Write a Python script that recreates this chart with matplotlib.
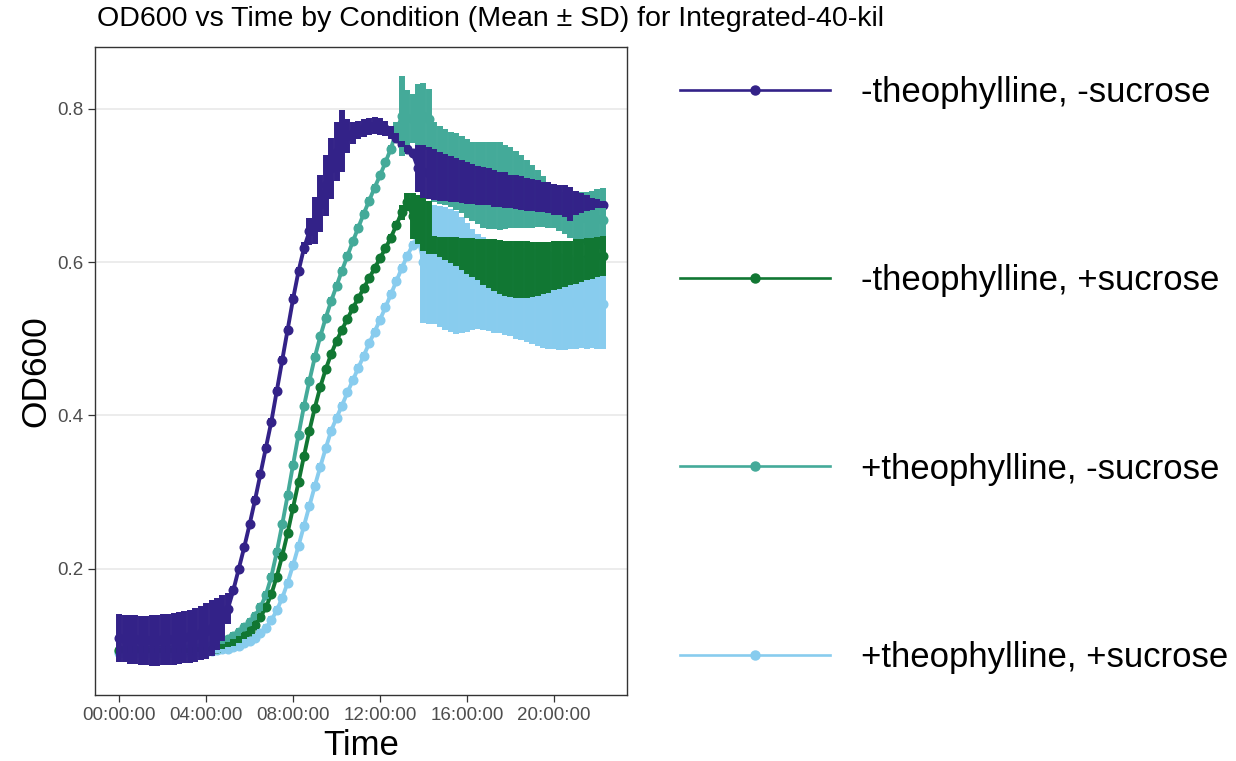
import numpy as np
import matplotlib
matplotlib.use("Agg")
import matplotlib.pyplot as plt
from matplotlib.lines import Line2D
from matplotlib.ticker import FuncFormatter, MultipleLocator

plt.rcParams["font.family"] = ["Liberation Sans", "DejaVu Sans"]

# plate reader read every 15 min, 0 h .. 22 h 15 min (90 reads)
hours = np.arange(90) * 0.25

conditions = [
    "-theophylline, -sucrose",
    "-theophylline, +sucrose",
    "+theophylline, -sucrose",
    "+theophylline, +sucrose",
]
colors = ["#332288", "#117733", "#44AA99", "#88CCEE"]

# -theophylline, -sucrose
mean_nn = [
    0.110, 0.109, 0.108, 0.108, 0.107, 0.107, 0.107, 0.107, 0.108, 0.108,
    0.109, 0.110, 0.111, 0.112, 0.114, 0.116, 0.119, 0.123, 0.128, 0.136,
    0.148, 0.172, 0.200, 0.228, 0.258, 0.290, 0.324, 0.358, 0.392, 0.432,
    0.472, 0.512, 0.552, 0.588, 0.618, 0.640, 0.654, 0.676, 0.700, 0.722,
    0.744, 0.758, 0.764, 0.768, 0.772, 0.775, 0.777, 0.778, 0.777, 0.774,
    0.769, 0.762, 0.754, 0.748, 0.742, 0.722, 0.718, 0.716, 0.714, 0.712,
    0.710, 0.708, 0.707, 0.705, 0.703, 0.702, 0.700, 0.699, 0.698, 0.696,
    0.695, 0.694, 0.692, 0.691, 0.690, 0.688, 0.687, 0.686, 0.685, 0.684,
    0.682, 0.681, 0.680, 0.676, 0.677, 0.677, 0.677, 0.676, 0.676, 0.675,
]
sd_nn = [
    0.031, 0.031, 0.032, 0.032, 0.032, 0.032, 0.033, 0.033, 0.033, 0.033,
    0.034, 0.034, 0.034, 0.035, 0.035, 0.035, 0.036, 0.036, 0.034, 0.030,
    0.020, 0.006, 0.004, 0.004, 0.004, 0.005, 0.005, 0.005, 0.005, 0.005,
    0.005, 0.005, 0.006, 0.006, 0.008, 0.018, 0.031, 0.037, 0.040, 0.040,
    0.038, 0.040, 0.022, 0.014, 0.012, 0.012, 0.011, 0.011, 0.011, 0.010,
    0.009, 0.006, 0.004, 0.004, 0.004, 0.030, 0.034, 0.034, 0.033, 0.032,
    0.031, 0.030, 0.029, 0.028, 0.027, 0.026, 0.025, 0.025, 0.024, 0.024,
    0.023, 0.023, 0.022, 0.022, 0.022, 0.021, 0.021, 0.021, 0.020, 0.020,
    0.020, 0.020, 0.021, 0.022, 0.016, 0.013, 0.010, 0.008, 0.006, 0.005,
]

# -theophylline, +sucrose
mean_np = [
    0.094, 0.094, 0.094, 0.094, 0.094, 0.094, 0.094, 0.094, 0.094, 0.094,
    0.094, 0.094, 0.094, 0.094, 0.095, 0.095, 0.095, 0.096, 0.097, 0.099,
    0.101, 0.104, 0.108, 0.113, 0.119, 0.127, 0.137, 0.150, 0.167, 0.190,
    0.217, 0.247, 0.280, 0.313, 0.347, 0.380, 0.410, 0.437, 0.460, 0.480,
    0.497, 0.512, 0.526, 0.540, 0.553, 0.566, 0.579, 0.592, 0.605, 0.618,
    0.632, 0.648, 0.665, 0.678, 0.660, 0.655, 0.650, 0.645, 0.622, 0.620,
    0.618, 0.616, 0.614, 0.611, 0.608, 0.606, 0.603, 0.600, 0.598, 0.596,
    0.594, 0.592, 0.591, 0.590, 0.590, 0.590, 0.590, 0.591, 0.592, 0.593,
    0.595, 0.596, 0.598, 0.599, 0.601, 0.602, 0.604, 0.605, 0.607, 0.608,
]
sd_np = [
    0.003, 0.003, 0.003, 0.003, 0.003, 0.003, 0.003, 0.003, 0.003, 0.003,
    0.003, 0.003, 0.003, 0.003, 0.003, 0.003, 0.003, 0.003, 0.003, 0.003,
    0.003, 0.004, 0.004, 0.004, 0.004, 0.004, 0.004, 0.004, 0.004, 0.004,
    0.004, 0.004, 0.004, 0.004, 0.004, 0.004, 0.004, 0.004, 0.004, 0.004,
    0.004, 0.004, 0.004, 0.004, 0.004, 0.004, 0.004, 0.004, 0.004, 0.004,
    0.004, 0.006, 0.010, 0.012, 0.030, 0.032, 0.035, 0.035, 0.012, 0.013,
    0.015, 0.017, 0.019, 0.021, 0.023, 0.025, 0.027, 0.030, 0.032, 0.034,
    0.035, 0.036, 0.036, 0.037, 0.037, 0.037, 0.036, 0.035, 0.034, 0.033,
    0.032, 0.031, 0.030, 0.029, 0.029, 0.028, 0.027, 0.027, 0.026, 0.026,
]

# +theophylline, -sucrose
mean_pn = [
    0.093, 0.093, 0.093, 0.093, 0.093, 0.093, 0.094, 0.094, 0.094, 0.094,
    0.095, 0.095, 0.096, 0.097, 0.097, 0.098, 0.099, 0.101, 0.103, 0.106,
    0.109, 0.113, 0.118, 0.124, 0.131, 0.139, 0.150, 0.166, 0.190, 0.222,
    0.258, 0.296, 0.336, 0.375, 0.412, 0.445, 0.476, 0.503, 0.527, 0.549,
    0.569, 0.589, 0.608, 0.627, 0.645, 0.663, 0.680, 0.697, 0.713, 0.730,
    0.748, 0.770, 0.790, 0.788, 0.787, 0.790, 0.790, 0.786, 0.730, 0.727,
    0.724, 0.721, 0.718, 0.714, 0.709, 0.705, 0.703, 0.701, 0.700, 0.700,
    0.699, 0.698, 0.697, 0.695, 0.692, 0.689, 0.686, 0.683, 0.679, 0.675,
    0.672, 0.668, 0.664, 0.661, 0.659, 0.658, 0.657, 0.656, 0.656, 0.655,
]
sd_pn = [
    0.004, 0.004, 0.004, 0.004, 0.004, 0.004, 0.004, 0.004, 0.004, 0.004,
    0.004, 0.004, 0.004, 0.004, 0.004, 0.004, 0.004, 0.004, 0.004, 0.004,
    0.004, 0.005, 0.005, 0.005, 0.005, 0.005, 0.005, 0.005, 0.005, 0.005,
    0.005, 0.005, 0.005, 0.005, 0.005, 0.005, 0.005, 0.005, 0.005, 0.005,
    0.005, 0.005, 0.005, 0.005, 0.005, 0.005, 0.005, 0.005, 0.005, 0.005,
    0.005, 0.012, 0.052, 0.036, 0.032, 0.042, 0.044, 0.040, 0.052, 0.051,
    0.050, 0.049, 0.050, 0.050, 0.051, 0.052, 0.054, 0.056, 0.057, 0.057,
    0.057, 0.055, 0.053, 0.050, 0.047, 0.044, 0.041, 0.037, 0.033, 0.030,
    0.028, 0.027, 0.028, 0.029, 0.031, 0.033, 0.035, 0.037, 0.039, 0.041,
]

# +theophylline, +sucrose
mean_pp = [
    0.090, 0.090, 0.090, 0.090, 0.090, 0.090, 0.090, 0.090, 0.091, 0.091,
    0.091, 0.091, 0.091, 0.092, 0.092, 0.092, 0.092, 0.093, 0.094, 0.095,
    0.096, 0.098, 0.100, 0.103, 0.106, 0.110, 0.116, 0.123, 0.133, 0.146,
    0.162, 0.182, 0.205, 0.230, 0.256, 0.282, 0.308, 0.333, 0.357, 0.380,
    0.397, 0.413, 0.430, 0.446, 0.462, 0.478, 0.494, 0.509, 0.525, 0.541,
    0.558, 0.575, 0.592, 0.608, 0.622, 0.632, 0.600, 0.598, 0.597, 0.594,
    0.592, 0.589, 0.586, 0.583, 0.580, 0.577, 0.575, 0.572, 0.570, 0.568,
    0.566, 0.564, 0.562, 0.560, 0.558, 0.557, 0.555, 0.554, 0.552, 0.551,
    0.550, 0.549, 0.548, 0.548, 0.547, 0.547, 0.546, 0.546, 0.545, 0.545,
]
sd_pp = [
    0.003, 0.003, 0.003, 0.003, 0.003, 0.003, 0.003, 0.003, 0.003, 0.003,
    0.003, 0.003, 0.003, 0.003, 0.003, 0.003, 0.003, 0.003, 0.003, 0.003,
    0.003, 0.005, 0.005, 0.005, 0.005, 0.005, 0.005, 0.005, 0.005, 0.005,
    0.005, 0.005, 0.005, 0.005, 0.005, 0.005, 0.005, 0.005, 0.005, 0.005,
    0.005, 0.005, 0.005, 0.005, 0.005, 0.005, 0.005, 0.005, 0.005, 0.005,
    0.005, 0.005, 0.005, 0.005, 0.005, 0.008, 0.080, 0.079, 0.078, 0.079,
    0.080, 0.080, 0.080, 0.076, 0.071, 0.066, 0.062, 0.061, 0.060, 0.060,
    0.059, 0.059, 0.059, 0.060, 0.060, 0.061, 0.062, 0.063, 0.064, 0.064,
    0.063, 0.063, 0.062, 0.061, 0.060, 0.059, 0.059, 0.058, 0.058, 0.058,
]

means = [mean_nn, mean_np, mean_pn, mean_pp]
sds = [sd_nn, sd_np, sd_pn, sd_pp]

fig = plt.figure(figsize=(12.36, 7.61), dpi=100)
ax = fig.add_axes([95 / 1236, 1 - 695 / 761, 532 / 1236, 648 / 761])

# last condition at the bottom, first one on top
order = [3, 2, 1, 0]
for i in order:
    ax.plot(hours, means[i], color=colors[i], lw=2.8, marker="o", ms=6.2, zorder=2)
for i in order:
    ax.errorbar(hours, means[i], yerr=sds[i], fmt="none", ecolor=colors[i],
                elinewidth=4.3, capsize=0, zorder=3)

ax.margins(x=0.05, y=0.05)
ax.xaxis.set_major_locator(MultipleLocator(4))
ax.xaxis.set_major_formatter(FuncFormatter(lambda h, _: f"{int(round(h)):02d}:00:00"))
ax.yaxis.set_major_locator(MultipleLocator(0.2))
ax.yaxis.set_major_formatter(FuncFormatter(lambda v, _: f"{v:.1f}"))

ax.yaxis.grid(True, color="#EBEBEB", lw=1.3)
ax.set_axisbelow(True)
for sp in ax.spines.values():
    sp.set_color("#333333")
    sp.set_linewidth(1.0)
ax.tick_params(length=5, width=0.9, color="#333333", labelcolor="#4D4D4D",
               labelsize=13.5, pad=3.6)

ax.set_xlabel("Time", fontsize=25)
ax.xaxis.set_label_coords(0.5, -0.052)
ax.set_ylabel("OD600", fontsize=25.5)
ax.yaxis.set_label_coords(-0.08, 0.5)

fig.text(97 / 1236, 1 - 26 / 761, "OD600 vs Time by Condition (Mean \u00b1 SD) for Integrated-40-kil",
         fontsize=20.5, ha="left", va="baseline")

handles = [Line2D([], [], color=c, lw=1.9, marker="o", ms=6.5) for c in colors]
fig.legend(handles, conditions, loc="center left", bbox_to_anchor=(680 / 1236, 1 - 375 / 761),
           frameon=False, fontsize=25, handlelength=4.32, handletextpad=0.89,
           labelspacing=4.47, borderpad=0, borderaxespad=0)

fig.savefig("out.png", dpi=100)
